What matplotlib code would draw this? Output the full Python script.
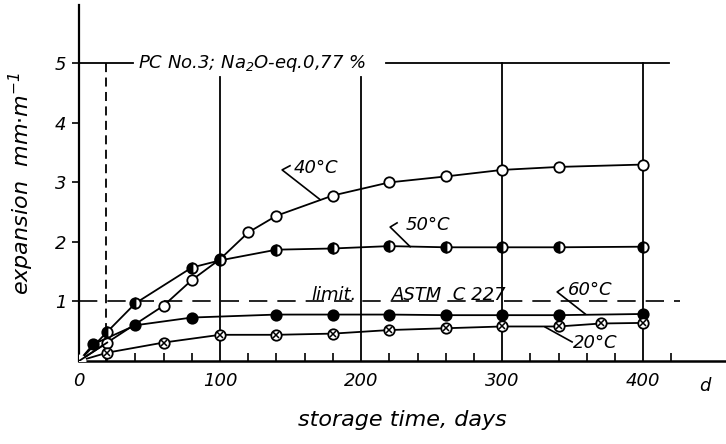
import numpy as np
import matplotlib.pyplot as plt

# storage days and expansion (mm/m)
days_40 = [0, 20, 60, 80, 100, 120, 140, 180, 220, 260, 300, 340, 400]
exp_40 = [0, 0.31, 0.93, 1.36, 1.71, 2.16, 2.44, 2.78, 3.0, 3.1, 3.21, 3.26, 3.3]

days_50 = [0, 20, 40, 80, 100, 140, 180, 220, 260, 300, 340, 400]
exp_50 = [0, 0.49, 0.97, 1.57, 1.69, 1.87, 1.89, 1.93, 1.91, 1.91, 1.91, 1.92]

days_60 = [0, 10, 40, 80, 140, 180, 220, 260, 300, 340, 400]
exp_60 = [0, 0.28, 0.6, 0.73, 0.78, 0.78, 0.78, 0.77, 0.77, 0.77, 0.79]

days_20 = [0, 20, 60, 100, 140, 180, 220, 260, 300, 340, 370, 400]
exp_20 = [0, 0.14, 0.31, 0.44, 0.44, 0.46, 0.52, 0.55, 0.58, 0.58, 0.63, 0.64]

x_ticks = [0, 100, 200, 300, 400]
y_ticks = [1, 2, 3, 4, 5]
astm_limit = 1.0

plt.rcParams['font.family'] = ['DejaVu Sans']
plt.rcParams['font.style'] = 'italic'
plt.rcParams['mathtext.fontset'] = 'dejavusans'
plt.rcParams['mathtext.default'] = 'it'

fig = plt.figure(figsize=(7.26, 4.44), dpi=100)
ax = fig.add_axes([79 / 726, 83 / 444, 646 / 726, 356 / 444])
ax.set_xlim(0, 458)
ax.set_ylim(0, 5.98)

for s in ['top', 'right']:
    ax.spines[s].set_visible(False)
ax.spines['left'].set_linewidth(1.6)
ax.spines['bottom'].set_linewidth(1.8)

ax.set_xticks(x_ticks)
ax.set_xticklabels([str(v) for v in x_ticks])
ax.set_xticks(np.arange(20, 440, 20), minor=True)
ax.tick_params(axis='x', which='major', length=0, labelsize=13, pad=8)
ax.tick_params(axis='x', which='minor', direction='in', length=6, width=1.2)
ax.set_yticks(y_ticks)
ax.tick_params(axis='y', length=5, width=1.2, labelsize=13, pad=4)
ax.text(444, -0.27, 'd', fontsize=13, ha='center', va='top')

# frame lines of the drawing
ax.plot([0, 38], [5, 5], color='black', lw=1.3)
ax.plot([218, 418], [5, 5], color='black', lw=1.3)
ax.plot([100, 100], [0, 4.77], color='black', lw=1.3)
ax.plot([200, 200], [0, 4.77], color='black', lw=1.3)
ax.plot([300, 300], [0, 5], color='black', lw=1.3)
ax.plot([400, 400], [0, 5], color='black', lw=1.3)
ax.plot([19, 19], [0, 5], color='black', lw=1.3, dashes=(5, 3))
ax.plot([0, 426], [astm_limit, astm_limit], color='black', lw=1.2, dashes=(11, 6))

ax.text(42, 5.0, 'PC No.3; Na$_2$O-eq.0,77 %', fontsize=13, ha='left', va='center')
ax.text(165, 1.03, 'limit.', fontsize=13, ha='left', va='baseline')
ax.text(222, 1.03, 'ASTM  C 227', fontsize=13, ha='left', va='baseline')

# curves
ax.plot(days_40, exp_40, color='black', lw=1.3, marker='o', ms=7.5,
        mfc='white', mec='black', mew=1.3, zorder=3)
ax.plot(days_60, exp_60, color='black', lw=1.3, marker='o', ms=7.5,
        mfc='black', mec='black', mew=1.3, zorder=3)
ax.plot(days_20, exp_20, color='black', lw=1.3, marker='o', ms=7.5,
        mfc='white', mec='black', mew=1.3, zorder=3)
ax.plot(days_20[1:], exp_20[1:], ls='none', marker='x', ms=4.2,
        mec='black', mew=1.1, zorder=4)
ax.plot(days_50, exp_50, color='black', lw=1.3, marker='o', ms=7.5,
        fillstyle='left', mfc='black', mfcalt='white', mec='black', mew=1.3, zorder=5)

# hide the markers at the origin
ax.plot([0], [0], ls='none', marker='o', ms=9, mfc='white', mec='white', zorder=6)
ax.plot([0, 20], [0, 0.31], color='black', lw=1.3, zorder=7)

# curve labels with leader lines
ax.text(168, 3.24, '40°C', fontsize=13, ha='center', va='center')
ax.plot([149.6, 144, 171], [3.28, 3.21, 2.71], color='black', lw=1.2)
ax.text(247.5, 2.29, '50°C', fontsize=13, ha='center', va='center')
ax.plot([225.5, 220.6, 234.8], [2.32, 2.25, 1.92], color='black', lw=1.2)
ax.text(362.4, 1.19, '60°C', fontsize=13, ha='center', va='center')
ax.plot([343.3, 339, 358.9], [1.23, 1.16, 0.79], color='black', lw=1.2)
ax.text(366, 0.30, '20°C', fontsize=13, ha='center', va='center')
ax.plot([330.5, 349.6], [0.57, 0.32], color='black', lw=1.2)

ax.set_xlabel('storage time, days', fontsize=16, labelpad=14)
ax.set_ylabel('expansion  mm$\\cdot$m$^{-1}$', fontsize=16, labelpad=14)

fig.savefig('out.png', dpi=100)
